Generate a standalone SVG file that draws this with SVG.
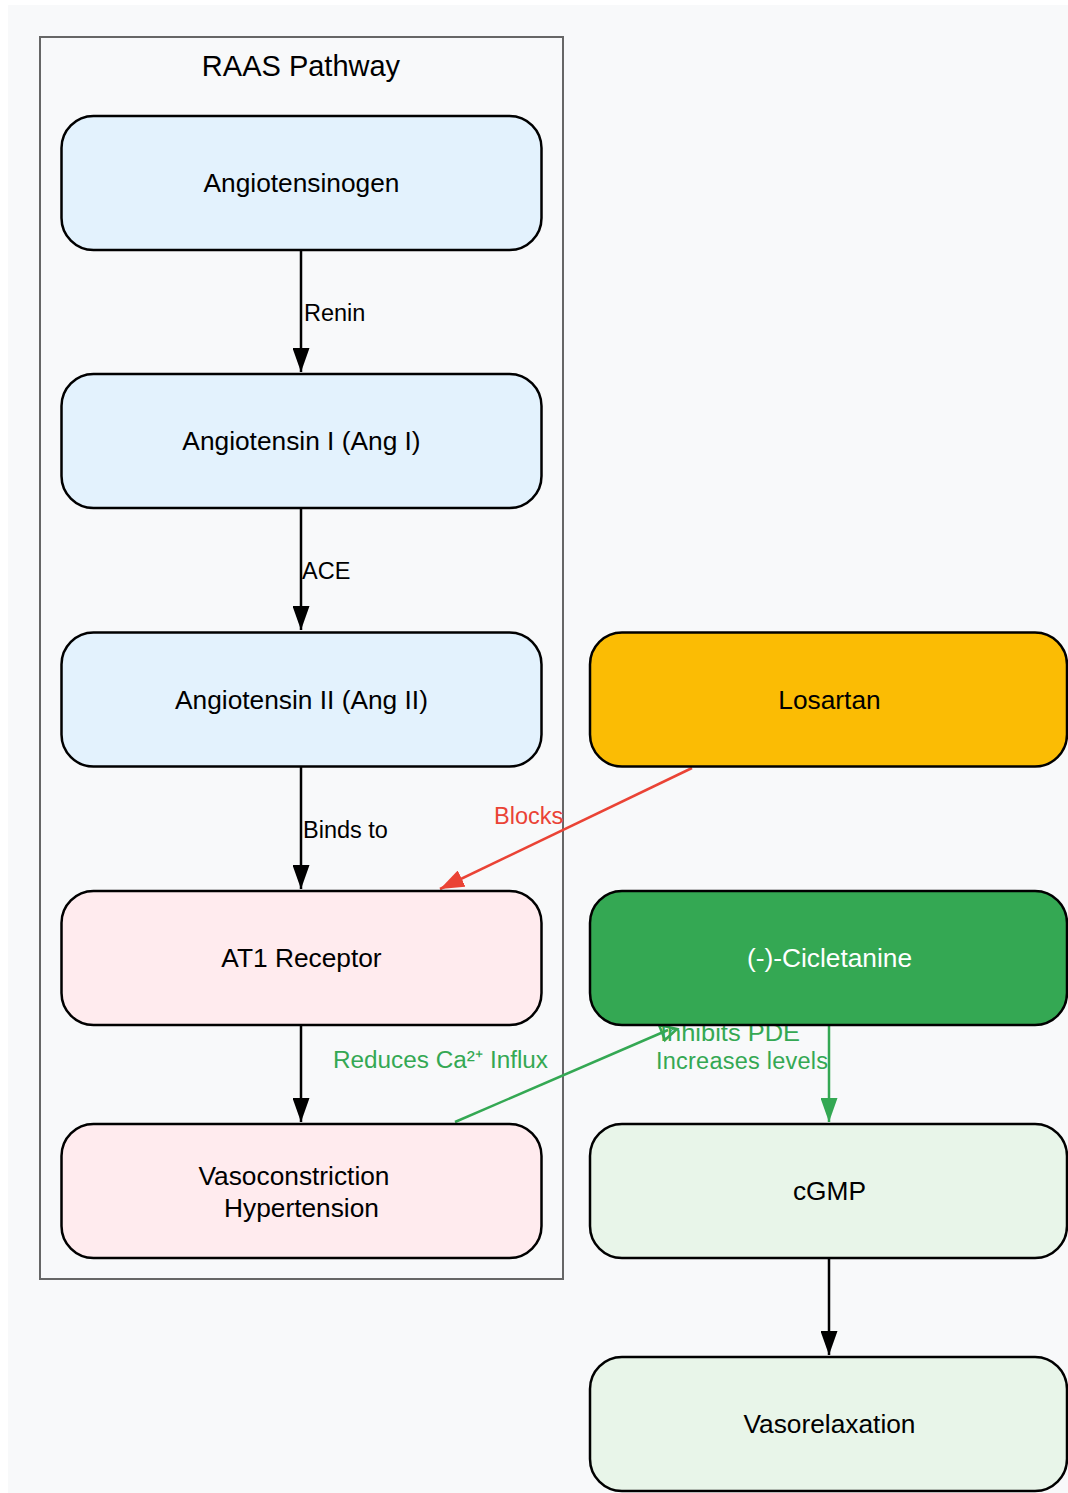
<svg xmlns="http://www.w3.org/2000/svg" width="1068" height="1493" viewBox="0 0 1068 1493">
<defs>
<style>
.node{stroke:#000;stroke-width:2.5}
.t{font-family:"Liberation Sans",Arial,sans-serif;font-size:26.3px;fill:#000;text-anchor:middle;dominant-baseline:central}
.el{font-family:"Liberation Sans",Arial,sans-serif;font-size:23.5px;dominant-baseline:central}
.e{fill:none;stroke-width:2.5}
</style>
<marker id="ar" viewBox="0 0 10 10" refX="10" refY="5" markerWidth="24" markerHeight="18" markerUnits="userSpaceOnUse" orient="auto" preserveAspectRatio="none">
<path d="M0,0 L10,5 L0,10 z" fill="#ea4335"/>
</marker>
<marker id="ag" viewBox="0 0 10 10" refX="10" refY="5" markerWidth="24" markerHeight="17" markerUnits="userSpaceOnUse" orient="auto" preserveAspectRatio="none">
<path d="M0,0 L10,5 L0,10 z" fill="#34a853"/>
</marker>
<marker id="abk" viewBox="0 0 10 10" refX="10" refY="5" markerWidth="24" markerHeight="17" markerUnits="userSpaceOnUse" orient="auto" preserveAspectRatio="none">
<path d="M0,0 L10,5 L0,10 z" fill="#000"/>
</marker>
</defs>
<rect x="8" y="5" width="1060" height="1488" fill="#f8f9fa"/>
<g id="cluster-raas">
<rect x="40" y="37" width="523" height="1242" fill="#f8f9fa" stroke="#666" stroke-width="2"/>
<text x="301" y="66" class="t" style="font-size:29px">RAAS Pathway</text>
</g>
<g id="connectors">
<line class="e" x1="301" y1="250" x2="301" y2="372" stroke="#000" marker-end="url(#abk)"/>
<text class="el" x="304" y="313" fill="#000">Renin</text>
<line class="e" x1="301" y1="508" x2="301" y2="630" stroke="#000" marker-end="url(#abk)"/>
<text class="el" x="302" y="571" fill="#000">ACE</text>
<line class="e" x1="301" y1="767" x2="301" y2="889" stroke="#000" marker-end="url(#abk)"/>
<text class="el" x="303" y="830" fill="#000">Binds to</text>
<line class="e" x1="301" y1="1025" x2="301" y2="1122" stroke="#000" marker-end="url(#abk)"/>
<line class="e" x1="692" y1="768" x2="440" y2="889" stroke="#ea4335" marker-end="url(#ar)"/>
<text class="el" x="494" y="816" fill="#ea4335">Blocks</text>
<line class="e" x1="455" y1="1122" x2="668" y2="1030" stroke="#34a853"/>
<polygon points="659,1025 677,1029 665,1040" fill="none" stroke="#34a853" stroke-width="2.5"/>
<text class="el" x="333" y="1060" fill="#34a853" textLength="215" lengthAdjust="spacingAndGlyphs">Reduces Ca²⁺ Influx</text>
<line class="e" x1="829" y1="1025" x2="829" y2="1122" stroke="#34a853" marker-end="url(#ag)"/>
<text class="el" x="660" y="1033" fill="#34a853" textLength="140" lengthAdjust="spacingAndGlyphs">Inhibits PDE</text>
<text class="el" x="656" y="1061" fill="#34a853" textLength="172">Increases levels</text>
<line class="e" x1="829" y1="1258" x2="829" y2="1355" stroke="#000" marker-end="url(#abk)"/>
</g>
<g id="n-angiotensinogen">
<rect class="node" x="61.5" y="116" width="480" height="134" rx="32" fill="#e3f2fd"/>
<text class="t" x="301.5" y="183">Angiotensinogen</text>
</g>
<g id="n-angI">
<rect class="node" x="61.5" y="374" width="480" height="134" rx="32" fill="#e3f2fd"/>
<text class="t" x="301.5" y="441">Angiotensin I (Ang I)</text>
</g>
<g id="n-angII">
<rect class="node" x="61.5" y="632.5" width="480" height="134" rx="32" fill="#e3f2fd"/>
<text class="t" x="301.5" y="700">Angiotensin II (Ang II)</text>
</g>
<g id="n-at1">
<rect class="node" x="61.5" y="891" width="480" height="134" rx="32" fill="#ffebee"/>
<text class="t" x="301.5" y="958">AT1 Receptor</text>
</g>
<g id="n-vasoconstriction">
<rect class="node" x="61.5" y="1124" width="480" height="134" rx="32" fill="#ffebee"/>
<text class="t" x="294" y="1176">Vasoconstriction</text>
<text class="t" x="301.5" y="1208">Hypertension</text>
</g>
<g id="n-losartan">
<rect class="node" x="590" y="632.5" width="477" height="134" rx="32" fill="#fbbc04"/>
<text class="t" x="829.5" y="700">Losartan</text>
</g>
<g id="n-cicletanine">
<rect class="node" x="590" y="891" width="477" height="134" rx="32" fill="#34a853"/>
<text class="t" x="829.5" y="958" style="fill:#fff">(-)-Cicletanine</text>
</g>
<g id="n-cgmp">
<rect class="node" x="590" y="1124" width="477" height="134" rx="32" fill="#e8f5e9"/>
<text class="t" x="829.5" y="1191">cGMP</text>
</g>
<g id="n-vasorelaxation">
<rect class="node" x="590" y="1357" width="477" height="134" rx="32" fill="#e8f5e9"/>
<text class="t" x="829.5" y="1424">Vasorelaxation</text>
</g>
</svg>
